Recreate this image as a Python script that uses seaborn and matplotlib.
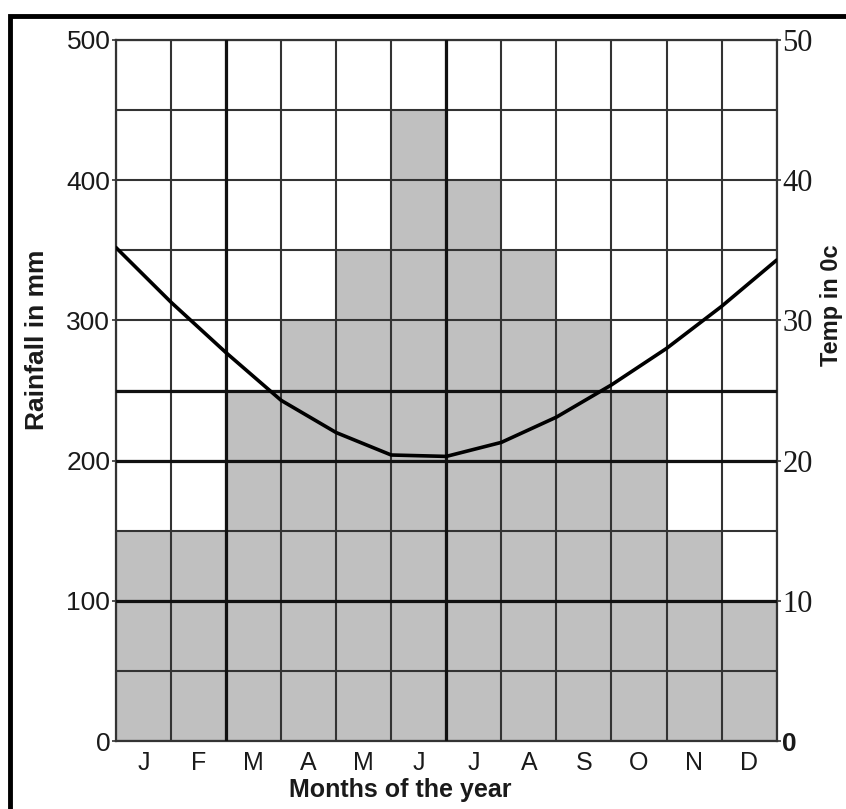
"""
Climate graph: monthly rainfall (bars) and temperature (line)
"""

import matplotlib
matplotlib.use("Agg")
import matplotlib.pyplot as plt
from matplotlib.patches import Rectangle
import numpy as np
import pandas as pd
import seaborn as sns

sns.set_style("white")
plt.rcParams["font.family"] = ["Liberation Sans", "DejaVu Sans"]

# data
months = ["Jan", "Feb", "Mar", "Apr", "May", "Jun",
          "Jul", "Aug", "Sep", "Oct", "Nov", "Dec"]
month_letters = ["J", "F", "M", "A", "M", "J", "J", "A", "S", "O", "N", "D"]
rainfall_mm = [150, 150, 250, 300, 350, 450, 400, 350, 300, 250, 150, 100]

# temperature read at month boundaries (start of Jan ... end of Dec)
temp_c = [35.2, 31.3, 27.7, 24.3, 22.0, 20.4, 20.3, 21.3, 23.1, 25.4, 28.0, 31.0, 34.3]

rain_ticks = [0, 100, 200, 300, 400, 500]
temp_ticks = [0, 10, 20, 30, 40, 50]

GRID_COLOR = "#333333"
TEXT_COLOR = "#1a1a1a"
BAR_COLOR = "#c0c0c0"

df = pd.DataFrame({"Month": months, "Rainfall": rainfall_mm})

fig = plt.figure(figsize=(8.46, 8.09), dpi=100)
ax = fig.add_axes([0.137, 0.084, 0.781, 0.8666])

sns.barplot(data=df, x="Month", y="Rainfall", order=months, color=BAR_COLOR,
            width=1.0, saturation=1, edgecolor="none", ax=ax, zorder=1)

ax.set_xlim(-0.5, 11.5)
ax.set_ylim(0, 500)

# grid: every 50 mm and every month boundary
ax.set_yticks(rain_ticks)
ax.set_yticks(np.arange(0, 501, 50), minor=True)
ax.set_xticks(range(12))
ax.set_xticks(np.arange(-0.5, 12, 1), minor=True)
ax.set_axisbelow(False)
ax.grid(which="minor", color=GRID_COLOR, lw=1.5)
ax.grid(which="major", axis="y", color=GRID_COLOR, lw=1.5)

# a few heavier lines as in the original drawing
for y in [100, 200, 250]:
    ax.axhline(y, color="#111111", lw=2.3, zorder=3)
for x in [1.5, 5.5]:
    ax.axvline(x, color="#111111", lw=2.3, zorder=3)

ax.set_xticklabels(month_letters, fontsize=18, color=TEXT_COLOR)
ax.set_yticklabels([str(t) for t in rain_ticks], fontsize=19, color=TEXT_COLOR)
ax.tick_params(axis="x", which="both", length=0, pad=7)
ax.tick_params(axis="y", which="major", length=3, width=1.2, pad=1, color=GRID_COLOR)
ax.tick_params(axis="y", which="minor", length=0)

ax.set_xlabel("Months of the year", fontsize=18, fontweight="bold", color=TEXT_COLOR)
ax.xaxis.set_label_coords(0.43, -0.052)
ax.set_ylabel("Rainfall in mm", fontsize=19, fontweight="bold", color=TEXT_COLOR)
ax.yaxis.set_label_coords(-0.102, 0.572)

for side in ["left", "right", "top", "bottom"]:
    ax.spines[side].set_visible(True)
    ax.spines[side].set_color(GRID_COLOR)
    ax.spines[side].set_linewidth(1.6)

# temperature on the right axis
ax2 = ax.twinx()
edges = np.arange(-0.5, 12, 1)
sns.lineplot(x=edges, y=temp_c, color="black", lw=2.6, ax=ax2)
ax2.set_ylim(0, 50)
ax2.set_xlim(-0.5, 11.5)
ax2.set_yticks(temp_ticks)
ax2.set_yticklabels([str(t) for t in temp_ticks], fontsize=22, color=TEXT_COLOR,
                    family=["Liberation Serif", "DejaVu Serif"])
zero_label = ax2.get_yticklabels()[0]
zero_label.set_family(["Liberation Sans", "DejaVu Sans"])
zero_label.set_fontweight("bold")
zero_label.set_fontsize(19)
ax2.tick_params(axis="y", length=3, width=1.2, pad=1, color=GRID_COLOR)
ax2.set_ylabel("Temp in 0c", fontsize=17, fontweight="bold", color=TEXT_COLOR, rotation=90)
ax2.yaxis.set_label_coords(1.066, 0.622)
for side in ["left", "right", "top", "bottom"]:
    ax2.spines[side].set_visible(False)

# thick frame around the whole picture
fig.patches.append(Rectangle((0.012, -0.02), 1.1, 1.0, transform=fig.transFigure,
                             fill=False, edgecolor="black", lw=3.5))

fig.savefig("out.png", dpi=100)
plt.close(fig)
